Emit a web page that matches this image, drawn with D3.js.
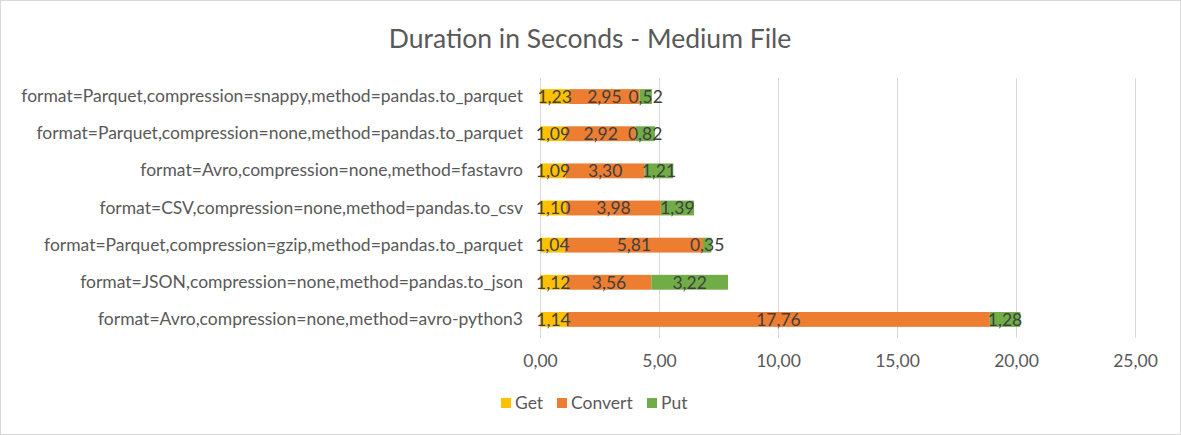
<!DOCTYPE html>
<html><head><meta charset="utf-8">
<script src="https://cdn.jsdelivr.net/npm/d3@7"></script>
<style>body{margin:0;background:#fff}</style>
</head><body>
<svg id="c" width="1181" height="435"></svg>
<script>
const categories = [
  "format=Parquet,compression=snappy,method=pandas.to_parquet",
  "format=Parquet,compression=none,method=pandas.to_parquet",
  "format=Avro,compression=none,method=fastavro",
  "format=CSV,compression=none,method=pandas.to_csv",
  "format=Parquet,compression=gzip,method=pandas.to_parquet",
  "format=JSON,compression=none,method=pandas.to_json",
  "format=Avro,compression=none,method=avro-python3"
];
const seriesNames = ["Get", "Convert", "Put"];
const getValues = [1.23, 1.09, 1.09, 1.10, 1.04, 1.12, 1.14];
const convertValues = [2.95, 2.92, 3.30, 3.98, 5.81, 3.56, 17.76];
const putValues = [0.52, 0.82, 1.21, 1.39, 0.35, 3.22, 1.28];
const xTicks = [0, 5, 10, 15, 20, 25];
const colors = ["#FFC000", "#ED7D31", "#70AD47"];

const font = "Lato, 'Open Sans', sans-serif";
const fs = 17.5;
const svg = d3.select("#c");
svg.append("rect").attr("x",0.5).attr("y",0.5).attr("width",1180).attr("height",434)
  .attr("fill","#fff").attr("stroke","#d9d9d9");

const loc = d3.formatLocale({decimal: ",", thousands: ".", grouping: [3], currency: ["", ""]});
const fmt = loc.format(".2f");

const x = d3.scaleLinear().domain([0, 25]).range([540, 1135]);
const y = d3.scaleBand().domain(categories).range([78, 338]).paddingInner(0.6).paddingOuter(0.3);

svg.append("text").attr("x", 590).attr("y", 38).attr("dy","0.36em").attr("text-anchor","middle")
  .attr("font-family", font).attr("font-size", 26.5).attr("fill","#595959")
  .text("Duration in Seconds - Medium File");

// gridlines
const grid = svg.append("g").attr("transform","translate(0,338)")
  .call(d3.axisBottom(x).tickValues(xTicks).tickSize(-260).tickFormat(""));
grid.select(".domain").remove();
grid.selectAll("line").attr("stroke","#d9d9d9").attr("stroke-width",1);

// axis labels
const ax = svg.append("g").attr("transform","translate(0,338)")
  .call(d3.axisBottom(x).tickValues(xTicks).tickSize(0).tickPadding(17).tickFormat(fmt));
ax.select(".domain").remove();
ax.selectAll("text").attr("font-family", font).attr("font-size", fs).attr("fill","#595959");

// category labels
const ay = svg.append("g").attr("transform","translate(540,0)")
  .call(d3.axisLeft(y).tickSize(0).tickPadding(17));
ay.select(".domain").remove();
ay.selectAll("text").attr("font-family", font).attr("font-size", fs).attr("fill","#595959");

const rows = categories.map((c,i)=>({cat:c, Get:getValues[i], Convert:convertValues[i], Put:putValues[i]}));
const stack = d3.stack().keys(seriesNames)(rows);

const g = svg.append("g");
stack.forEach((s, si) => {
  g.selectAll(null).data(s).enter().append("rect")
    .attr("x", d => x(d[0])).attr("width", d => x(d[1]) - x(d[0]))
    .attr("y", d => y(d.data.cat)).attr("height", y.bandwidth())
    .attr("fill", colors[si]);
});
stack.forEach((s, si) => {
  g.selectAll(null).data(s).enter().append("text")
    .attr("x", d => (x(d[0]) + x(d[1])) / 2)
    .attr("y", d => y(d.data.cat) + y.bandwidth()/2)
    .attr("dy", "0.36em").attr("text-anchor","middle")
    .attr("font-family", font).attr("font-size", fs).attr("fill","#404040")
    .text(d => fmt(d[1] - d[0]));
});

// legend
const legendX = [501, 557, 647];
const lg = svg.append("g");
seriesNames.forEach((n, i) => {
  lg.append("rect").attr("x", legendX[i]).attr("y", 398).attr("width", 10).attr("height", 10).attr("fill", colors[i]);
  lg.append("text").attr("x", legendX[i] + 14).attr("y", 403).attr("dy","0.36em")
    .attr("font-family", font).attr("font-size", fs).attr("fill","#595959").text(n);
});
</script>
</body></html>
